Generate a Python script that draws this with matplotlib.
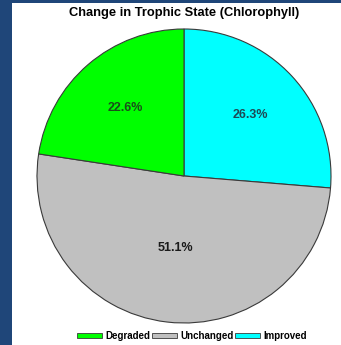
import numpy as np
import matplotlib
matplotlib.use("Agg")
import matplotlib.pyplot as plt
from matplotlib.patches import Patch, Rectangle

plt.rcParams['font.family'] = ['Liberation Sans', 'DejaVu Sans']

# trophic state change shares (percent), drawn clockwise from the top
labels = ["Improved", "Unchanged", "Degraded"]
shares = [26.3, 51.1, 22.6]
colors = ["#00ffff", "#c0c0c0", "#00ff00"]
text_colors = ["#1d4a55", "#1a1a1a", "#1a4d1a"]
legend_order = ["Degraded", "Unchanged", "Improved"]

W, H = 341, 345
fig = plt.figure(figsize=(W / 100, H / 100), dpi=100)
fig.patch.set_facecolor("#1f4679")
# white panel inside the blue frame
fig.patches.append(Rectangle((12 / W, 0), 1 - 12 / W, (H - 3) / H,
                             transform=fig.transFigure, facecolor="white",
                             edgecolor="none", zorder=-5))

cx, cy, r = 184, 176, 147
ax = fig.add_axes([(cx - r) / W, (H - cy - r) / H, 2 * r / W, 2 * r / H])
ax.set_zorder(2)
ax.patch.set_visible(False)
wedges, texts, autotexts = ax.pie(
    shares, colors=colors, startangle=90, counterclock=False,
    autopct="%.1f%%", pctdistance=0.61,
    wedgeprops=dict(edgecolor="#3a3a3a", linewidth=0.8))
ax.set_xlim(-1, 1)
ax.set_ylim(-1, 1)

for t, c in zip(autotexts, text_colors):
    t.set_color(c)
    t.set_fontsize(9)
    t.set_fontweight("bold")
# the big slice has its label pulled closer to the centre
x, y = autotexts[1].get_position()
autotexts[1].set_position((x * 0.49 / 0.61, y * 0.49 / 0.61))

fig.text(cx / W, 1 - 13 / H, "Change in Trophic State (Chlorophyll)",
         ha="center", va="center", fontsize=9.3, fontweight="bold")

handles = [Patch(facecolor=colors[labels.index(n)], edgecolor="#3a3a3a",
                 linewidth=0.6, label=n) for n in legend_order]
leg = fig.legend(handles=handles, loc="center", bbox_to_anchor=(192 / W, 1 - 336 / H),
                 ncol=3, frameon=False, prop=dict(size=7, weight="bold"),
                 handlelength=2.6, handleheight=0.55, handletextpad=0.35,
                 columnspacing=0.15)
leg.set_zorder(3)

fig.savefig("out.png", dpi=100, facecolor=fig.get_facecolor())
